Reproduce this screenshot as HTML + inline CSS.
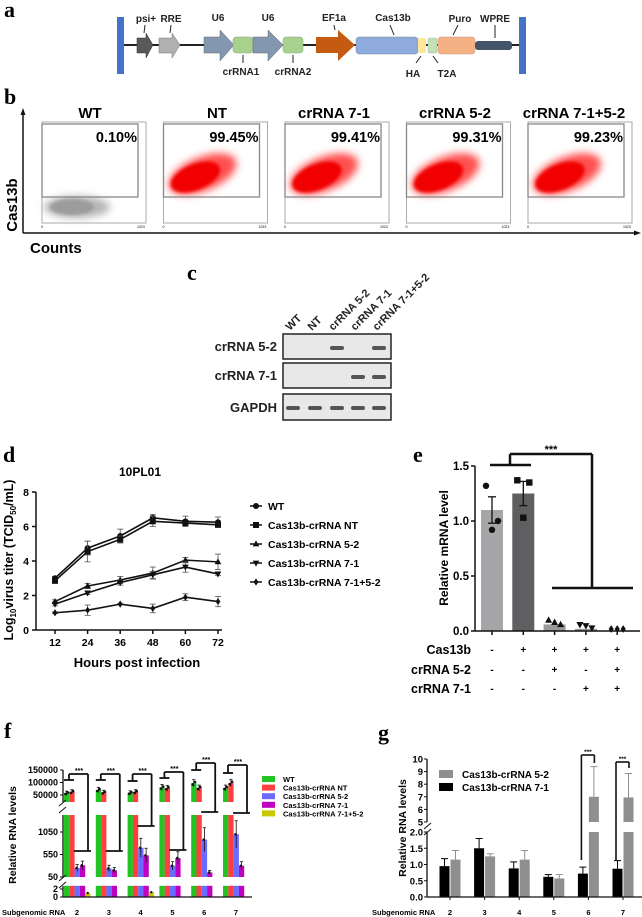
<!DOCTYPE html>
<html><head><meta charset="utf-8">
<style>
html,body{margin:0;padding:0;background:#fff;}
svg{display:block;font-family:"Liberation Sans Narrow","Liberation Sans",Arial,sans-serif;}
.b{font-weight:bold;}
.lbl{font-family:"Liberation Serif",serif;font-weight:bold;font-size:22px;}
</style></head>
<body>
<svg id="fig" width="642" height="917" viewBox="0 0 642 917" xmlns="http://www.w3.org/2000/svg">
<defs>
<filter id="blur1" x="-50%" y="-50%" width="200%" height="200%"><feGaussianBlur stdDeviation="4"/></filter>
<filter id="blur2" x="-50%" y="-50%" width="200%" height="200%"><feGaussianBlur stdDeviation="1.5"/></filter>
</defs>
<g>
<text class="lbl" x="4" y="17">a</text>
<line x1="119" y1="45" x2="522" y2="45" stroke="#222" stroke-width="2"/>
<rect x="117" y="17" width="7" height="57" fill="#4472c4"/>
<rect x="519" y="17" width="7" height="57" fill="#4472c4"/>
<polygon points="137,38 146,38 146,33 153,45 146,58 146,53 137,53" fill="#595959" stroke="#333" stroke-width="0.5"/>
<polygon points="159,38 172,38 172,33 180,45 172,58 172,53 159,53" fill="#b0b0b0" stroke="#777" stroke-width="0.5"/>
<polygon points="204,37 220,37 220,30 234,45 220,61 220,53 204,53" fill="#8497b0" stroke="#666" stroke-width="0.5"/>
<rect x="233" y="37" width="20" height="16" rx="3" fill="#a9d18e" stroke="#7a7" stroke-width="0.5"/>
<polygon points="253,37 268,37 268,30 283,45 268,61 268,53 253,53" fill="#8497b0" stroke="#666" stroke-width="0.5"/>
<rect x="283" y="37" width="20" height="16" rx="3" fill="#a9d18e" stroke="#7a7" stroke-width="0.5"/>
<polygon points="316,37 338,37 338,30 355,45 338,61 338,53 316,53" fill="#c55a11"/>
<rect x="356" y="37" width="62" height="17" rx="3" fill="#8faadc" stroke="#789" stroke-width="0.5"/>
<rect x="418" y="38" width="8" height="15" rx="2" fill="#ffe699"/>
<rect x="428" y="38" width="9" height="15" rx="2" fill="#c5e0b4" stroke="#9b9" stroke-width="0.5"/>
<rect x="438" y="37" width="37" height="17" rx="3" fill="#f4b183" stroke="#c98" stroke-width="0.5"/>
<rect x="475" y="41" width="37" height="9" rx="3" fill="#44546a"/>
<g class="b" font-size="10" text-anchor="middle" fill="#222">
<text x="146" y="22">psi+</text><text x="171" y="22">RRE</text><text x="218" y="21">U6</text><text x="268" y="21">U6</text>
<text x="334" y="21">EF1a</text><text x="393" y="21">Cas13b</text><text x="460" y="22">Puro</text><text x="495" y="22">WPRE</text>
<text x="241" y="75">crRNA1</text><text x="293" y="75">crRNA2</text><text x="413" y="77">HA</text><text x="447" y="77">T2A</text>
</g>
<g stroke="#222" stroke-width="1">
<line x1="145" y1="25" x2="144" y2="33"/><line x1="171" y1="25" x2="170" y2="33"/><line x1="334" y1="25" x2="335" y2="30"/>
<line x1="390" y1="25" x2="394" y2="35"/><line x1="458" y1="25" x2="453" y2="35"/><line x1="495" y1="25" x2="495" y2="38"/>
<line x1="243" y1="55" x2="243" y2="63"/><line x1="293" y1="55" x2="293" y2="63"/><line x1="421" y1="56" x2="416" y2="63"/><line x1="433" y1="56" x2="438" y2="63"/>
</g>
</g>

<g id="panelB">
<text class="lbl" x="4" y="104">b</text>
<line x1="23" y1="233" x2="23" y2="113" stroke="#111" stroke-width="1.5"/>
<polygon points="23,108 20.5,115 25.5,115" fill="#111"/>
<line x1="23" y1="233" x2="635" y2="233" stroke="#111" stroke-width="1.5"/>
<polygon points="641,233 634,230.5 634,235.5" fill="#111"/>
<text class="b" x="30" y="253" font-size="15">Counts</text>
<text class="b" transform="translate(17,205) rotate(-90)" text-anchor="middle" font-size="15">Cas13b</text>
</g>

<g>
<text class="lbl" x="187" y="280">c</text>
<g class="b" font-size="11" fill="#222">
<text transform="translate(290,331) rotate(-45)">WT</text>
<text transform="translate(312,331) rotate(-45)">NT</text>
<text transform="translate(333,331) rotate(-45)">crRNA 5-2</text>
<text transform="translate(355,331) rotate(-45)">crRNA 7-1</text>
<text transform="translate(377,331) rotate(-45)">crRNA 7-1+5-2</text>
</g>
<g class="b" font-size="13" fill="#222" text-anchor="end">
<text x="277" y="351">crRNA 5-2</text>
<text x="277" y="380">crRNA 7-1</text>
<text x="277" y="412">GAPDH</text>
</g>
<rect x="283" y="334" width="108" height="25" fill="#e8e8e8" stroke="#222" stroke-width="1.5"/>
<rect x="283" y="363" width="108" height="25" fill="#e8e8e8" stroke="#222" stroke-width="1.5"/>
<rect x="283" y="394" width="108" height="26" fill="#e8e8e8" stroke="#222" stroke-width="1.5"/>
<g fill="#555">
<rect x="330" y="346" width="14" height="4" rx="2"/><rect x="372" y="346" width="14" height="4" rx="2"/>
<rect x="351" y="375" width="14" height="4" rx="2"/><rect x="372" y="375" width="14" height="4" rx="2"/>
<rect x="286" y="406" width="14" height="4" rx="2"/><rect x="308" y="406" width="14" height="4" rx="2"/><rect x="330" y="406" width="14" height="4" rx="2"/><rect x="351" y="406" width="14" height="4" rx="2"/><rect x="372" y="406" width="14" height="4" rx="2"/>
</g>
</g>

<g id="panelD">
<text class="lbl" x="3" y="462">d</text>
<text class="b" x="140" y="476" text-anchor="middle" font-size="12">10PL01</text>
<text class="b" x="137" y="667" text-anchor="middle" font-size="13">Hours post infection</text>
<text class="b" transform="translate(13,560) rotate(-90)" text-anchor="middle" font-size="12.5">Log<tspan font-size="8" dy="3">10</tspan><tspan dy="-3">virus titer (TCID</tspan><tspan font-size="8" dy="3">50</tspan><tspan dy="-3">/mL)</tspan></text>
</g>

<g id="panelE">
<text class="lbl" x="413" y="462">e</text>
<text class="b" transform="translate(448,548) rotate(-90)" text-anchor="middle" font-size="12">Relative mRNA level</text>
</g>

<g id="panelF">
<text class="lbl" x="4" y="738">f</text>
<text class="b" transform="translate(16,835) rotate(-90)" text-anchor="middle" font-size="10.5">Relative RNA levels</text>
<text class="b" x="2" y="915" font-size="7.5">Subgenomic RNA</text>
</g>

<g id="panelG">
<text class="lbl" x="378" y="740">g</text>
<text class="b" transform="translate(406,828) rotate(-90)" text-anchor="middle" font-size="10.5">Relative RNA levels</text>
<text class="b" x="372" y="915" font-size="7.5">Subgenomic RNA</text>
</g>
</svg>

<script>
const flowTitles = ["WT","NT","crRNA 7-1","crRNA 5-2","crRNA 7-1+5-2"];
const flowPercents = ["0.10%","99.45%","99.41%","99.31%","99.23%"];

const dHours = [12,24,36,48,60,72];
const dSeriesNames = ["WT","Cas13b-crRNA NT","Cas13b-crRNA 5-2","Cas13b-crRNA 7-1","Cas13b-crRNA 7-1+5-2"];
const dWT = [3.0,4.75,5.45,6.5,6.3,6.25];
const dNT = [2.85,4.55,5.25,6.3,6.2,6.1];
const d52 = [1.65,2.55,2.9,3.3,4.05,3.95];
const d71 = [1.5,2.15,2.75,3.2,3.65,3.25];
const dCombo = [1.0,1.15,1.5,1.25,1.9,1.65];
const dErrWT = [0.1,0.4,0.4,0.2,0.3,0.3];
const dErrNT = [0.1,0.6,0.2,0.3,0.1,0.1];
const dErr52 = [0.1,0.15,0.2,0.35,0.15,0.45];
const dErr71 = [0.1,0.1,0.15,0.2,0.3,0.1];
const dErrCombo = [0.05,0.3,0.05,0.25,0.2,0.3];
const dYTicks = [0,2,4,6,8];

const eMeans = [1.1,1.25,0.06,0.02,0.0];
const eErr = [0.12,0.11,0.02,0.01,0.0];
const ePoints1 = [1.32,1.0,0.92];
const ePoints2 = [1.37,1.35,1.03];
const ePoints3 = [0.08,0.06,0.04];
const ePoints4 = [0.04,0.03,0.01];
const ePoints5 = [0.0,0.0,0.0];
const eCas13b = ["-","+","+","+","+"];
const eCr52 = ["-","-","+","-","+"];
const eCr71 = ["-","-","-","+","+"];
const eYTicks = [0,0.5,1.0,1.5];

const fGroups = ["2","3","4","5","6","7"];
const fSeriesNames = ["WT","Cas13b-crRNA NT","Cas13b-crRNA 5-2","Cas13b-crRNA 7-1","Cas13b-crRNA 7-1+5-2"];
const fWT = [57000,70000,58000,80000,97000,78000];
const fNT = [62000,60000,62000,77000,78000,98000];
const f52 = [250,240,700,300,880,1000];
const f71 = [310,200,530,470,150,300];
const fCombo = [1.0,0.0,1.2,0.0,0.0,0.0];
const fTopTicks = [50000,100000,150000];
const fMidTicks = [50,550,1050];
const fLowTicks = [0,2];

const gGroups = ["2","3","4","5","6","7"];
const g71 = [0.95,1.5,0.88,0.62,0.72,0.87];
const g52 = [1.15,1.25,1.15,0.57,7.0,6.95];
const gErr71 = [0.23,0.3,0.2,0.07,0.2,0.25];
const gErr52 = [0.28,0.08,0.28,0.12,2.4,1.9];
const gLowTicks = [0,0.5,1.0,1.5,2.0];
const gHighTicks = [5,6,7,8,9,10];

const NS="http://www.w3.org/2000/svg";
function mk(parent,tag,attrs,text){const e=document.createElementNS(NS,tag);for(const k in attrs)e.setAttribute(k,attrs[k]);if(text!==undefined)e.textContent=text;parent.appendChild(e);return e;}
function line(p,x1,y1,x2,y2,sw,c){return mk(p,"line",{x1:x1,y1:y1,x2:x2,y2:y2,stroke:c||"#111","stroke-width":sw||1});}
function marker(p,type,x,y,s,c){
  c=c||"#111";
  if(type==="circle") return mk(p,"circle",{cx:x,cy:y,r:s,fill:c});
  if(type==="square") return mk(p,"rect",{x:x-s,y:y-s,width:2*s,height:2*s,fill:c});
  if(type==="tri") return mk(p,"polygon",{points:`${x},${y-s*1.2} ${x-s*1.1},${y+s*0.8} ${x+s*1.1},${y+s*0.8}`,fill:c});
  if(type==="itri") return mk(p,"polygon",{points:`${x},${y+s*1.2} ${x-s*1.1},${y-s*0.8} ${x+s*1.1},${y-s*0.8}`,fill:c});
  return mk(p,"polygon",{points:`${x},${y-s*1.2} ${x-s*0.8},${y} ${x},${y+s*1.2} ${x+s*0.8},${y}`,fill:c});
}

(function(){
  const g=document.getElementById("panelB");
  const titleX=[90,217,334,455,574];
  for(let i=0;i<flowTitles.length;i++){
    const x0=39+i*121.5;
    const pg=mk(g,"g",{});
    
    
    const t=mk(pg,"text",{x:titleX[i],y:118,"text-anchor":"middle","font-size":15,"font-weight":"bold"},flowTitles[i]);
    
    
    mk(pg,"rect",{x:x0+3,y:122,width:104,height:101,fill:"#fff",stroke:"#aaa","stroke-width":1});
    if(i===0){
      mk(pg,"ellipse",{cx:x0+38,cy:207,rx:33,ry:11,fill:"#b5b5b5",filter:"url(#blur1)"});
      mk(pg,"ellipse",{cx:x0+33,cy:207,rx:22,ry:8,fill:"#9c9c9c",filter:"url(#blur2)"});
    } else {
      mk(pg,"ellipse",{cx:x0+42,cy:174,rx:36,ry:17,fill:"#ff5050",filter:"url(#blur1)",transform:`rotate(-22 ${x0+42} 174)`});
      mk(pg,"ellipse",{cx:x0+35,cy:177,rx:26,ry:13,fill:"#f00000",filter:"url(#blur2)",transform:`rotate(-22 ${x0+35} 177)`});
    }
    mk(pg,"rect",{x:x0+3,y:124,width:96,height:73,fill:"none",stroke:"#888","stroke-width":1.3});
    const p=mk(pg,"text",{x:x0+98,y:142,"text-anchor":"end","font-size":14.5,"font-weight":"bold"},flowPercents[i]);
    
    
    mk(pg,"text",{x:x0+2,y:228,"font-size":3.5},"0");
    mk(pg,"text",{x:x0+98,y:228,"font-size":3.5},"1023");
  }
})();

(function(){
  const g=document.getElementById("panelD");
  const yD=v=>630-v*17.25, xD=h=>55+(h-12)*32.6/12;
  line(g,36,yD(0),36,yD(8),1.5);
  line(g,36,630,222,630,1.5);
  dYTicks.forEach(v=>{line(g,32,yD(v),36,yD(v),1.5);
    const t=mk(g,"text",{x:29,y:yD(v)+4,"text-anchor":"end","font-size":10.5,"font-weight":"bold"},v);
    });
  dHours.forEach(h=>{line(g,xD(h),630,xD(h),634,1.5);
    const t=mk(g,"text",{x:xD(h),y:646,"text-anchor":"middle","font-size":10.5,"font-weight":"bold"},h);
    });
  const series=[dWT,dNT,d52,d71,dCombo], errs=[dErrWT,dErrNT,dErr52,dErr71,dErrCombo];
  const mks=["circle","square","tri","itri","diamond"];
  series.forEach((s,si)=>{
    const sg=mk(g,"g",{});
    
    
    mk(sg,"polyline",{points:s.map((v,i)=>xD(dHours[i])+","+yD(v)).join(" "),fill:"none",stroke:"#111","stroke-width":1.6});
    s.forEach((v,i)=>{const x=xD(dHours[i]),e=errs[si][i];
      line(sg,x,yD(v-e),x,yD(v+e),0.8,"#555");line(sg,x-3,yD(v+e),x+3,yD(v+e),0.8,"#555");line(sg,x-3,yD(v-e),x+3,yD(v-e),0.8,"#555");
      marker(sg,mks[si],x,yD(v),3);});
    const ly=506+si*19;
    line(sg,250,ly,262,ly,1.5);marker(sg,mks[si],256,ly,3);
    const lt=mk(sg,"text",{x:268,y:ly+4,"font-size":10.5,"font-weight":"bold"},dSeriesNames[si]);
    
  });
})();

(function(){
  const g=document.getElementById("panelE");
  const yE=v=>631-v*110, xE=i=>492+i*31.3;
  const cols=["#a6a6a8","#5f5f61","#9a9a9a","#9a9a9a","#9a9a9a"];
  eMeans.forEach((v,i)=>{const r=mk(g,"rect",{x:xE(i)-11,y:yE(v),width:22,height:631-yE(v),fill:cols[i]});
    
    if(eErr[i]>0.03){line(g,xE(i),yE(v-eErr[i]),xE(i),yE(v+eErr[i]),1.3);line(g,xE(i)-4,yE(v+eErr[i]),xE(i)+4,yE(v+eErr[i]),1.3);line(g,xE(i)-4,yE(v-eErr[i]),xE(i)+4,yE(v-eErr[i]),1.3);}
  });
  const pts=[ePoints1,ePoints2,ePoints3,ePoints4,ePoints5], mks=["circle","square","tri","itri","diamond"];
  pts.forEach((arr,i)=>arr.forEach((v,j)=>{const off=[-6,6,0][j]; const ox=(i>=2)?(j-1)*6:off*(j===2?0:1);
    marker(g,mks[i],xE(i)+ox,yE(v)-(i>=2?2:0),3.2);}));
  line(g,475,yE(0),475,yE(1.5),1.5);line(g,475,631,640,631,1.5);
  eYTicks.forEach(v=>{line(g,471,yE(v),475,yE(v),1.5);
    const t=mk(g,"text",{x:469,y:yE(v)+4,"text-anchor":"end","font-size":11.5,"font-weight":"bold"},v.toFixed(1));
    });
  eMeans.forEach((v,i)=>line(g,xE(i),631,xE(i),635,1.5));
  const bk=mk(g,"g",{});
  
  
  line(bk,490,465,531,465,2.5);line(bk,510,465,510,454,2.5);line(bk,510,454,592,454,2.5);line(bk,592,454,592,588,2.5);line(bk,552,588,633,588,2.5);
  mk(bk,"text",{x:551,y:453,"text-anchor":"middle","font-size":11,"font-weight":"bold"},"***");
  const rows=[["Cas13b",eCas13b,654],["crRNA 5-2",eCr52,674],["crRNA 7-1",eCr71,693]];
  rows.forEach(r=>{const t=mk(g,"text",{x:471,y:r[2],"text-anchor":"end","font-size":12.5,"font-weight":"bold"},r[0]);
    
    r[1].forEach((s,i)=>mk(g,"text",{x:xE(i),y:r[2]-1,"text-anchor":"middle","font-size":10,"font-weight":"bold"},s));});
})();

(function(){
  const g=document.getElementById("panelF");
  const yTop=v=>795-(v-50000)*25/100000, yMid=v=>877-(v-50)*0.045, yLow=v=>897-v*4;
  const gc=i=>77+i*31.8;
  const cols=["#22c322","#ff4040","#6b6bff","#c000c0","#c8c800"];
  const series=[fWT,fNT,f52,f71,fCombo];
  series.forEach((s,si)=>s.forEach((v,i)=>{
    const x=gc(i)-13+si*5.3;
    const bg=mk(g,"g",{fill:cols[si]});
    
    
    mk(bg,"rect",{x:x,y:yLow(Math.min(v,2.8)),width:5.3,height:897-yLow(Math.min(v,2.8))});
    if(v>50){mk(bg,"rect",{x:x,y:Math.max(yMid(Math.min(v,1450)),815),width:5.3,height:877-Math.max(yMid(Math.min(v,1450)),815)});}
    if(v>45000){mk(bg,"rect",{x:x,y:yTop(v),width:5.3,height:802-yTop(v)});
      const e=v*0.15;line(g,x+2.6,yTop(v+e),x+2.6,yTop(v-e),0.8);line(g,x+1,yTop(v+e),x+4.2,yTop(v+e),0.8);
      marker(g,"circle",x+1.5,yTop(v*0.95),1.3);marker(g,"circle",x+3.8,yTop(v*1.05),1.3);}
    else if(v>50){const e=v*0.3;line(g,x+2.6,yMid(v+e),x+2.6,Math.min(yMid(Math.max(v-e,50)),877),0.8);line(g,x+1,yMid(v+e),x+4.2,yMid(v+e),0.8);
      marker(g,"circle",x+2,yMid(v),1.3);}
    else if(v>0.5){marker(g,"circle",x+2.5,yLow(v),1.2);}
  }));
  line(g,63,770,63,802,1.3);line(g,63,815,63,877,1.3);line(g,63,886,63,897,1.3);
  line(g,59,806,66,800,1);line(g,59,813,66,807,1);line(g,59,881,66,875,1);line(g,59,888,66,882,1);
  line(g,63,897,252,897,1.3);
  const tk=(v,y)=>{line(g,60,y,63,y,1);const t=mk(g,"text",{x:58,y:y+3,"text-anchor":"end","font-size":9,"font-weight":"bold"},v);
    };
  fTopTicks.forEach(v=>tk(v,yTop(v)));fMidTicks.forEach(v=>tk(v,yMid(v)));fLowTicks.forEach(v=>tk(v,yLow(v)));
  fGroups.forEach((lab,i)=>{const t=mk(g,"text",{x:gc(i),y:915,"text-anchor":"middle","font-size":7.5,"font-weight":"bold"},lab);
    });
  const A=[780,780,781,778,770,773],B=[774,774,774,772,763,765],C=[851,851,826,850,812,813];
  fGroups.forEach((lab,i)=>{const s=gc(i)-13;const bk=mk(g,"g",{});
    
    
    line(bk,s,A[i],s+10,A[i],1.8);line(bk,s+5,A[i],s+5,B[i],1.8);line(bk,s+5,B[i],s+24,B[i],1.8);line(bk,s+24,B[i],s+24,C[i],1.8);line(bk,s+10,C[i],s+27,C[i],1.8);
    mk(bk,"text",{x:s+15,y:B[i]-1,"text-anchor":"middle","font-size":7,"font-weight":"bold"},"***");});
  fSeriesNames.forEach((n,i)=>{const y=779+i*8.6;const lg=mk(g,"g",{});
    
    
    mk(lg,"rect",{x:262,y:y-3,width:13,height:6,fill:cols[i]});
    mk(lg,"text",{x:283,y:y+3,"font-size":7.5,"font-weight":"bold"},n);});
})();

(function(){
  const g=document.getElementById("panelG");
  const yL=v=>897-v*32.5, yH=v=>822-(v-5)*12.6;
  const gc=i=>450+i*34.6;
  function bar(x,v,col,e){
    const bg=mk(g,"g",{fill:col});
    
    
    if(v<=2){mk(bg,"rect",{x:x,y:yL(v),width:10,height:897-yL(v)});
      line(g,x+5,yL(v),x+5,yL(v+e),1,col);line(g,x+1.5,yL(v+e),x+8.5,yL(v+e),1,col);}
    else{mk(bg,"rect",{x:x,y:yL(2),width:10,height:897-yL(2)});mk(bg,"rect",{x:x,y:yH(v),width:10,height:822-yH(v)});
      line(g,x+5,yH(v),x+5,yH(v+e),1,col);line(g,x+1.5,yH(v+e),x+8.5,yH(v+e),1,col);}
  }
  g71.forEach((v,i)=>bar(gc(i)-10.5,v,"#000",gErr71[i]));
  g52.forEach((v,i)=>bar(gc(i)+0.5,v,"#8f8f8f",gErr52[i]));
  line(g,427,759,427,822,1.3);line(g,427,832,427,897,1.3);line(g,427,897,642,897,1.3);
  line(g,424,829,431,823,1);line(g,424,835,431,829,1);
  gLowTicks.forEach(v=>{line(g,424,yL(v),427,yL(v),1);const t=mk(g,"text",{x:423,y:yL(v)+3.5,"text-anchor":"end","font-size":9.5,"font-weight":"bold"},v.toFixed(1));
    });
  gHighTicks.forEach(v=>{line(g,424,yH(v),427,yH(v),1);const t=mk(g,"text",{x:423,y:yH(v)+3.5,"text-anchor":"end","font-size":9.5,"font-weight":"bold"},v);
    });
  gGroups.forEach((lab,i)=>{line(g,gc(i),897,gc(i),900,1);const t=mk(g,"text",{x:gc(i),y:915,"text-anchor":"middle","font-size":7.5,"font-weight":"bold"},lab);
    });
  [[4,860,755,763],[5,861,762,768]].forEach(b=>{const x=gc(b[0])-7;const bk=mk(g,"g",{});
    
    
    line(bk,x,b[1],x,b[2],1.6);line(bk,x,b[2],x+13,b[2],1.6);line(bk,x+13,b[2],x+13,b[3],1.6);
    mk(bk,"text",{x:x+6.5,y:b[2]-1,"text-anchor":"middle","font-size":6.5,"font-weight":"bold"},"***");});
  [["Cas13b-crRNA 5-2","#8f8f8f",774],["Cas13b-crRNA 7-1","#000",787]].forEach(l=>{const lg=mk(g,"g",{});
    
    
    mk(lg,"rect",{x:439,y:l[2]-4,width:14,height:8,fill:l[1]});
    mk(lg,"text",{x:462,y:l[2]+4,"font-size":10,"font-weight":"bold"},l[0]);});
})();
</script>
</body></html>
